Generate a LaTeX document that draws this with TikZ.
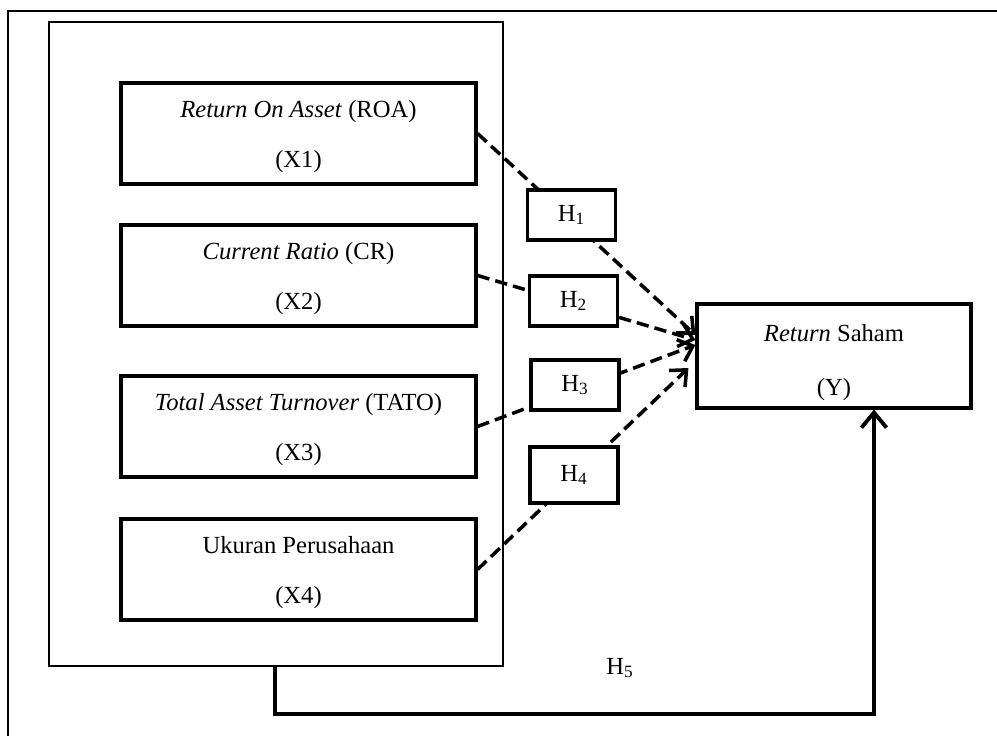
\documentclass[tikz,border=0pt]{standalone}
\usepackage{fontspec}
\setmainfont{Liberation Serif}
\usetikzlibrary{arrows.meta, calc}

\begin{document}
\begin{tikzpicture}[
  var/.style={draw, line width=1.8pt, minimum width=7.1cm, minimum height=2.02cm, align=center, font=\fontsize{14}{17}\selectfont},
  hyp/.style={draw, line width=1.8pt, fill=white, minimum width=1.76cm, minimum height=1cm, font=\fontsize{14}{17}\selectfont},
  link/.style={line width=2pt, dash pattern=on 7pt off 3.5pt, -{Straight Barb[length=2.6mm, width=4.6mm, line width=2pt]}},
]
  \useasboundingbox (0,0) rectangle (19.94,14.72);
  \draw[line width=0.8pt] (0.16,-0.2) -- (0.16,14.5) -- (20.2,14.5);

  % Independent variables
  \node[draw, line width=1.6pt, minimum width=9.08cm, minimum height=12.88cm] (group) at (5.52, 7.84) {};
  \node[var] (roa) at (5.97, 12.05) {\rule{0pt}{13.2pt}\textit{Return On Asset} (ROA)\\[11pt](X1)};
  \node[var] (cr) at (5.97, 9.21) {\rule{0pt}{13.2pt}\textit{Current Ratio} (CR)\\[11pt](X2)};
  \node[var] (tato) at (5.97, 6.19) {\rule{0pt}{13.2pt}\textit{Total Asset Turnover} (TATO)\\[11pt](X3)};
  \node[var] (size) at (5.97, 3.33) {\rule{0pt}{13.2pt}Ukuran Perusahaan\\[11pt](X4)};

  % Dependent variable
  \node[var, minimum width=5.48cm, minimum height=2.08cm] (ret) at (16.68, 7.60) {\rule{0pt}{17pt}\textit{Return} Saham\\[14pt](Y)};

  % Partial effects
  \draw[link] (roa.east) -- ($(ret.west)+(0,0.42)$);
  \draw[link] (cr.east) -- ($(ret.west)+(0,0.32)$);
  \draw[link] (tato.east) -- ($(ret.west)+(0,0.22)$);
  \draw[link] (size.east) -- ($(ret.west)+(-0.14,-0.24)$);

  \node[hyp] (h1) at (11.43, 10.42) {H\textsubscript{1}};
  \node[hyp] (h2) at (11.47, 8.70) {H\textsubscript{2}};
  \node[hyp] (h3) at (11.50, 7.02) {H\textsubscript{3}};
  \node[hyp, minimum height=1.12cm] (h4) at (11.48, 5.22) {H\textsubscript{4}};

  % Simultaneous effect
  \coordinate (low) at (5.5, 0.44);
  \draw[line width=2.4pt, -{Straight Barb[length=3mm, width=5mm, line width=2.2pt]}]
    (group.south -| low) -- (low) -- (low -| 17.48,0) -- ($(ret.south)+(0.8,0)$);
  \node[font=\fontsize{14}{17}\selectfont] (h5) at (12.4, 1.36) {H\textsubscript{5}};
\end{tikzpicture}
\end{document}
